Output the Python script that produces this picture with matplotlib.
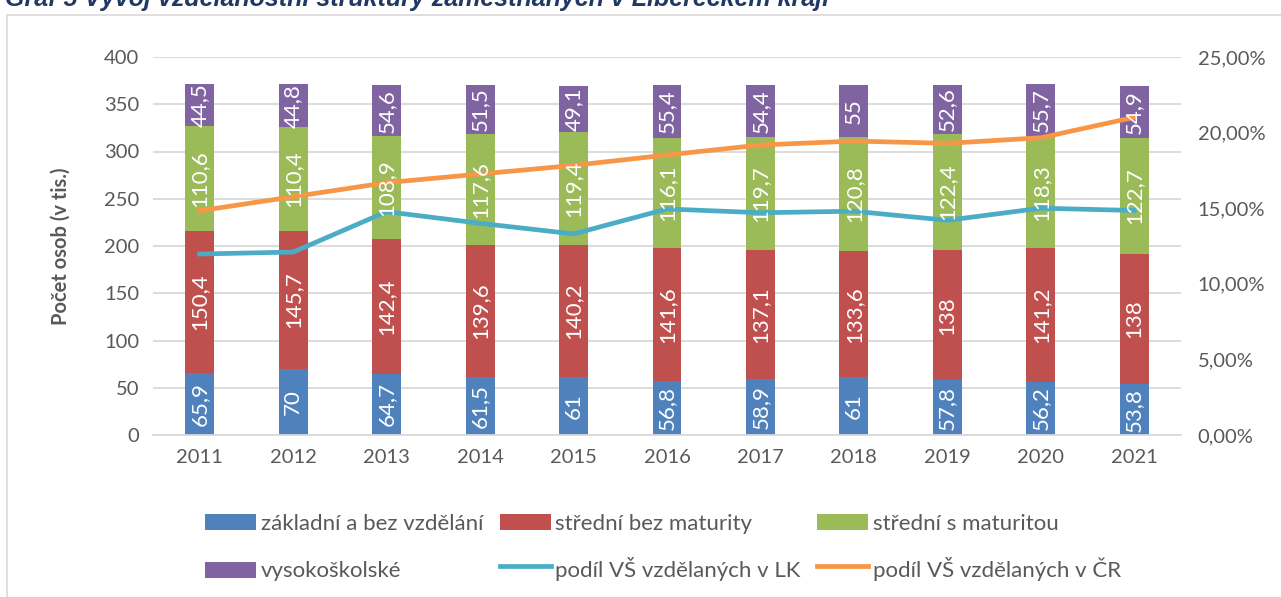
import matplotlib.pyplot as plt
import numpy as np
from matplotlib.legend_handler import HandlerPatch
from matplotlib.patches import Rectangle
from matplotlib.ticker import FuncFormatter

years = ["2011", "2012", "2013", "2014", "2015", "2016", "2017", "2018", "2019", "2020", "2021"]
zakladni = [65.9, 70, 64.7, 61.5, 61, 56.8, 58.9, 61, 57.8, 56.2, 53.8]
stredni_bez = [150.4, 145.7, 142.4, 139.6, 140.2, 141.6, 137.1, 133.6, 138, 141.2, 138]
stredni_s = [110.6, 110.4, 108.9, 117.6, 119.4, 116.1, 119.7, 120.8, 122.4, 118.3, 122.7]
vysokoskolske = [44.5, 44.8, 54.6, 51.5, 49.1, 55.4, 54.4, 55, 52.6, 55.7, 54.9]
podil_lk = [11.97, 12.1, 14.77, 14.0, 13.3, 14.95, 14.7, 14.8, 14.2, 15.0, 14.85]
podil_cr = [14.83, 15.76, 16.69, 17.26, 17.83, 18.52, 19.18, 19.44, 19.29, 19.66, 21.01]

series = [
    ("základní a bez vzdělání", zakladni, "#4F81BD"),
    ("střední bez maturity", stredni_bez, "#C0504D"),
    ("střední s maturitou", stredni_s, "#9BBB59"),
    ("vysokoškolské", vysokoskolske, "#8064A2"),
]

plt.rcParams["font.family"] = ["Lato", "DejaVu Sans"]
grey = "#595959"

fig = plt.figure(figsize=(12.81, 5.97), dpi=100)
ax = fig.add_axes([153 / 1281, 1 - 435 / 597, (1181 - 153) / 1281, (435 - 57) / 597])
ax2 = ax.twinx()

x = np.arange(len(years))
bottom = np.zeros(len(years))
bars = []
for name, vals, col in series:
    vals = np.array(vals)
    b = ax.bar(x, vals, 0.31, bottom=bottom, color=col, label=name, zorder=2)
    bars.append(b)
    for xi, v, b0 in zip(x, vals, bottom):
        # labels go on the top axes so they sit above the lines
        ax2.text(xi, b0 + v / 2, f"{v:g}".replace(".", ","), rotation=90, transform=ax.transData,
                 ha="center", va="center", color="white", fontsize=16, zorder=5)
    bottom += vals

ax.set_ylim(0, 400)
ax.set_xlim(-0.5, len(years) - 0.5)
ax.set_yticks(range(0, 401, 50))
ax.set_xticks(x)
ax.set_xticklabels(years)
ax.grid(axis="y", color="#D9D9D9", linewidth=1.3, zorder=0)
ax.set_axisbelow(True)
for s in ["top", "left", "right"]:
    ax.spines[s].set_visible(False)
ax.spines["bottom"].set_color("#D9D9D9")
ax.spines["bottom"].set_linewidth(1.3)
ax.tick_params(length=0, labelsize=14.5, labelcolor=grey, pad=10)
ax.set_ylabel("Počet osob (v tis.)", fontsize=14.5, fontweight="bold", color=grey, labelpad=24)

l1, = ax2.plot(x, podil_lk, color="#4BACC6", linewidth=3.4, label="podíl VŠ vzdělaných v LK", zorder=4)
l2, = ax2.plot(x, podil_cr, color="#F79646", linewidth=3.4, label="podíl VŠ vzdělaných v ČR", zorder=4)
ax2.set_ylim(0, 25)
ax2.set_yticks(range(0, 26, 5))
ax2.yaxis.set_major_formatter(FuncFormatter(lambda v, p: f"{v:.2f}%".replace(".", ",")))
for s in ["top", "left", "right", "bottom"]:
    ax2.spines[s].set_visible(False)
ax2.tick_params(length=0, labelsize=14.5, labelcolor=grey, pad=12)


def small_box(legend, orig_handle, xdescent, ydescent, width, height, fontsize):
    return Rectangle((-xdescent, -ydescent + height * 0.22), width, height * 0.56)


def first_child(legend_handle, orig_handle):
    legend_handle.update_from(orig_handle[0])


# legend filled column-wise, so order items to read row by row
order = [bars[0], bars[3], bars[1], l1, bars[2], l2]
fig.legend(order, [h.get_label() for h in order],
           ncol=3, loc="center", bbox_to_anchor=(663 / 1281, 1 - 546 / 597), frameon=False,
           fontsize=16, labelcolor=grey, handlelength=2.3, handleheight=1.6,
           handletextpad=0.2, columnspacing=0.75, labelspacing=0.85,
           handler_map={type(bars[0]): HandlerPatch(patch_func=small_box, update_func=first_child)})

fig.patches.append(Rectangle((7 / 1281, -0.05), 1.2, 1 - 15 / 597 + 0.05, transform=fig.transFigure,
                             fill=False, edgecolor="#D9D9D9", linewidth=1.2))
fig.text(5 / 1281, 1 - 6 / 597, "Graf 5 Vývoj vzdělanostní struktury zaměstnaných v Libereckém kraji",
         fontsize=18, fontweight="bold", fontstyle="italic", color="#1F3864",
         family=["Liberation Sans", "DejaVu Sans"], va="baseline", ha="left")

fig.savefig("out.png", dpi=100)
